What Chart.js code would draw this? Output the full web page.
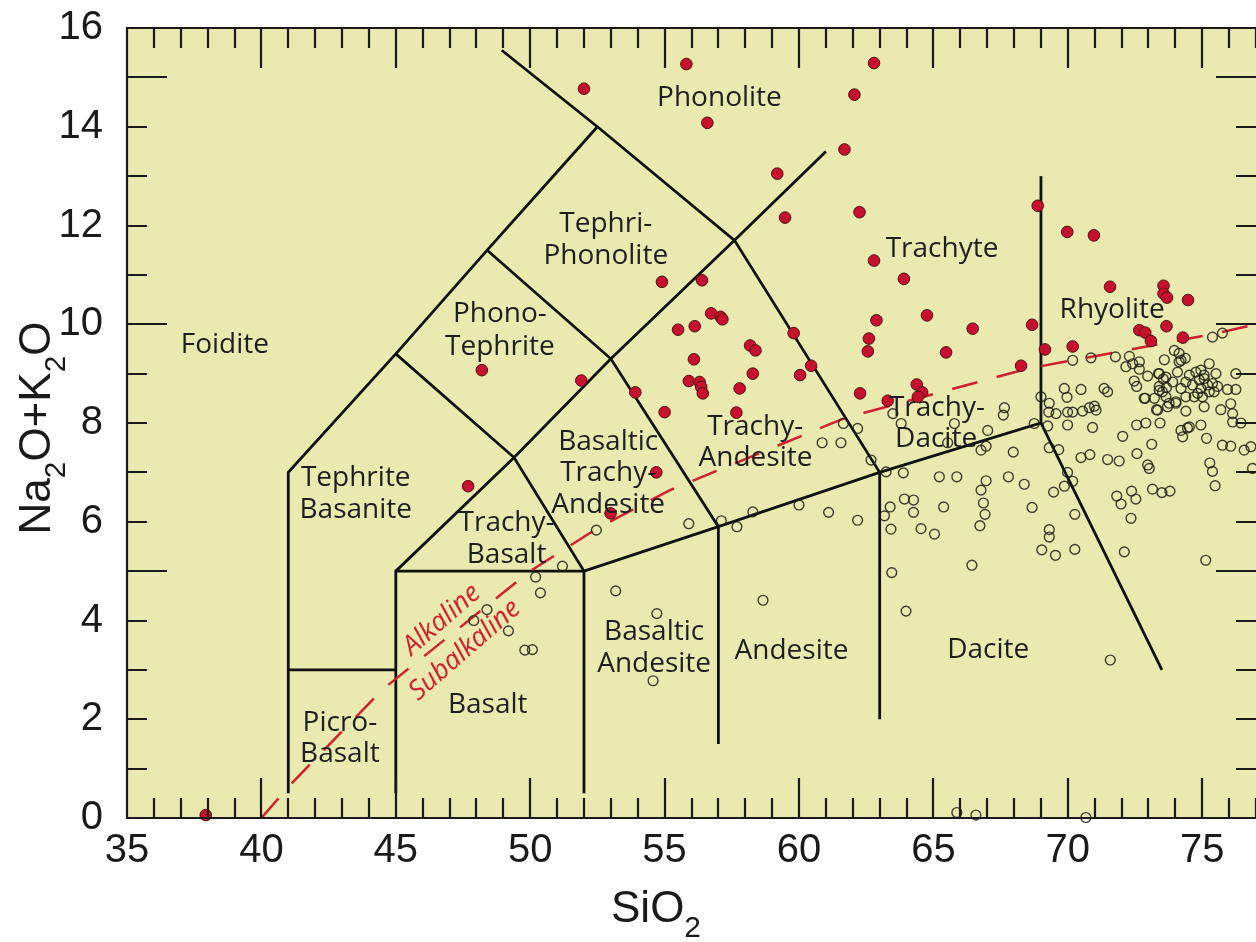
<!DOCTYPE html>
<html>
<head>
<meta charset="utf-8">
<title>TAS diagram</title>
<script src="https://cdn.jsdelivr.net/npm/chart.js@4.4.1/dist/chart.umd.min.js"></script>
<style>
  html, body { margin: 0; padding: 0; background: #fff; }
  canvas { display: block; }
</style>
</head>
<body>
<canvas id="tas" width="1256" height="942"></canvas>
<script>

// Axis ticks
const xTickValues = [35, 40, 45, 50, 55, 60, 65, 70, 75];
const yTickValues = [0, 2, 4, 6, 8, 10, 12, 14, 16];

// Samples (SiO2, Na2O+K2O)
const filledSamples = [
    [37.93, 0.06], [52.0, 14.77], [55.81, 15.27], [56.59, 14.08], [62.06, 14.65], [62.79, 15.29],
    [61.69, 13.54], [59.19, 13.05], [59.48, 12.16], [62.25, 12.27], [54.9, 10.86], [56.39, 10.89],
    [56.73, 10.22], [57.08, 10.15], [57.15, 10.1], [62.79, 11.29], [63.9, 10.92], [64.76, 10.18],
    [62.88, 10.08], [68.88, 12.4], [69.98, 11.87], [70.97, 11.8], [71.57, 10.76], [73.56, 10.78],
    [73.56, 10.62], [73.69, 10.54], [74.47, 10.49], [72.66, 9.88], [72.88, 9.83], [73.67, 9.96],
    [73.09, 9.66], [74.28, 9.73], [70.18, 9.55], [69.15, 9.49], [66.46, 9.91], [68.67, 9.99],
    [68.26, 9.16], [55.5, 9.89], [56.12, 9.96], [59.8, 9.82], [62.6, 9.71], [62.56, 9.45],
    [65.47, 9.43], [58.18, 9.57], [58.38, 9.47], [56.09, 9.29], [60.45, 9.16], [51.9, 8.86],
    [55.9, 8.85], [56.3, 8.83], [56.36, 8.73], [56.42, 8.6], [58.28, 9.0], [60.04, 8.97],
    [57.79, 8.7], [53.91, 8.62], [62.27, 8.6], [64.38, 8.78], [64.58, 8.62], [64.42, 8.53],
    [63.3, 8.45], [55.0, 8.22], [57.67, 8.21], [54.69, 7.0], [52.99, 6.17], [47.69, 6.72],
    [48.2, 9.07]
];

const openSamples = [
    [52.46, 5.83], [51.2, 5.1], [50.2, 4.88], [50.38, 4.56], [48.39, 4.22], [47.9, 4.0],
    [49.19, 3.79], [49.8, 3.4], [50.08, 3.41], [53.18, 4.6], [54.71, 4.14], [54.57, 2.78],
    [55.9, 5.96], [57.11, 6.02], [57.69, 5.9], [58.28, 6.2], [58.66, 4.41], [60.0, 6.34],
    [61.1, 6.19], [60.86, 7.6], [61.56, 7.6], [61.65, 7.99], [62.18, 7.89], [62.18, 6.03],
    [63.49, 8.19], [63.8, 7.99], [62.68, 7.25], [63.24, 7.01], [63.88, 6.99], [65.22, 6.91],
    [65.87, 6.91], [66.96, 6.83], [66.77, 6.64], [66.86, 6.38], [66.92, 6.15], [66.73, 5.92],
    [67.79, 6.91], [68.38, 6.76], [68.67, 6.29], [69.47, 6.6], [69.31, 5.84], [69.31, 5.69],
    [69.03, 5.43], [69.54, 5.32], [66.43, 5.12], [63.45, 4.97], [63.18, 6.12], [63.39, 6.3],
    [63.92, 6.46], [64.26, 6.44], [64.26, 6.19], [63.42, 5.85], [64.54, 5.86], [65.04, 5.75],
    [65.38, 6.3], [65.78, 7.99], [67.02, 7.85], [66.96, 7.53], [66.77, 7.45], [65.53, 7.6],
    [67.97, 7.41], [67.64, 8.31], [67.6, 8.16], [69.0, 8.53], [69.31, 8.4], [69.29, 8.22],
    [69.56, 8.19], [68.75, 7.99], [69.31, 7.5],
    [70.18, 9.27], [70.86, 9.32], [71.77, 9.34], [72.29, 9.35], [72.41, 9.2], [72.66, 9.24],
    [72.16, 9.14], [72.66, 9.09], [73.59, 9.28], [73.96, 9.47], [74.14, 9.41], [74.21, 9.27],
    [74.37, 9.31], [74.14, 9.24], [75.38, 9.74], [75.75, 9.82], [75.26, 9.2], [76.25, 9.0],
    [72.97, 8.95], [72.47, 8.85], [72.56, 8.74], [73.4, 9.0], [73.55, 8.89], [73.4, 8.74],
    [73.67, 8.72], [73.4, 8.66], [73.9, 8.83], [74.08, 9.03], [74.21, 8.7], [74.39, 8.83],
    [74.52, 8.97], [74.64, 8.77], [74.76, 9.03], [74.89, 8.87], [75.07, 8.97], [75.2, 8.77],
    [74.95, 8.7], [74.83, 8.6], [75.26, 8.63], [75.38, 8.8], [75.57, 8.74], [72.84, 8.5],
    [73.22, 8.5], [73.65, 8.53], [73.77, 8.4], [73.71, 8.33], [74.02, 8.43], [74.39, 8.53],
    [74.7, 8.53], [75.01, 8.53], [75.07, 8.33], [73.34, 8.26], [74.39, 8.24], [75.94, 8.68],
    [76.25, 8.68], [75.69, 8.27], [76.06, 8.39], [76.13, 8.19], [76.44, 8.0], [74.95, 7.96],
    [74.52, 7.92], [74.21, 7.85], [74.27, 7.72], [72.9, 8.0], [72.56, 7.96], [73.43, 8.0],
    [73.12, 7.57], [72.57, 7.38], [75.16, 7.69], [75.75, 7.55], [76.06, 7.53], [76.56, 7.45],
    [76.81, 7.52], [72.04, 7.73], [70.92, 7.91], [69.99, 7.96], [69.25, 7.94], [70.49, 7.3],
    [70.82, 7.36], [71.48, 7.26], [71.91, 7.23], [72.97, 7.15], [73.03, 7.08], [75.28, 7.19],
    [75.38, 7.02], [75.48, 6.73], [73.15, 6.66], [73.5, 6.59], [73.8, 6.62], [71.82, 6.52],
    [71.98, 6.36], [72.37, 6.62], [72.53, 6.46], [72.35, 6.07], [72.1, 5.39], [69.87, 8.7],
    [70.49, 8.68], [69.97, 8.52], [71.35, 8.7], [71.48, 8.63], [69.99, 8.22], [70.18, 8.22],
    [70.55, 8.24], [70.8, 8.31], [70.99, 8.34], [71.05, 8.26], [69.66, 7.46], [69.87, 6.72],
    [70.18, 6.82], [69.99, 7.0], [70.26, 6.15], [70.26, 5.44], [75.13, 5.22],
    [63.98, 4.19], [71.58, 3.2], [65.87, 0.11], [66.58, 0.06], [70.67, 0.01],
    [74.95, 9.07], [75.51, 9.0], [75.07, 8.9], [75.44, 8.63], [74.02, 8.4], [73.3, 8.27],
    [72.88, 8.5], [73.37, 9.0], [73.65, 8.93], [73.52, 8.63], [76.13, 8.02], [74.45, 7.9],
    [76.87, 7.08]
];

// Field boundaries (TAS, Le Bas et al.)
const foiditeEdge = [[41, 0.5], [41, 7], [45, 9.4], [48.4, 11.5], [52.5, 14]];
const phonoliteEdge = [[48.94, 15.55], [52.5, 14], [57.6, 11.7], [63, 7]];
const picroTop = [[41, 3], [45, 3]];
const basaltEdge = [[45, 0.5], [45, 5], [52, 5]];
const tephriEdge = [[45, 5], [49.4, 7.3], [53, 9.3], [57.6, 11.7], [61, 13.5]];
const trachyBasaltEdge = [[45, 9.4], [49.4, 7.3], [52, 5], [52, 0.5]];
const trachyAndesiteEdge = [[48.4, 11.5], [53, 9.3], [57, 5.9], [57, 1.5]];
const subalkalineTop = [[52, 5], [57, 5.9], [63, 7], [69, 8], [73.5, 3]];
const andesiteEdge = [[63, 7], [63, 2]];
const rhyoliteEdge = [[69, 8], [69, 13]];

// Alkaline / subalkaline divide
const alkalineDivide = [
    [40, 0], [41, 0.63], [44.5, 2.6], [50, 5.0], [52.5, 5.87], [55.2, 6.64],
    [61.7, 8.1], [65.5, 8.66], [68.5, 9.1], [75.4, 9.8], [77, 10]
];

const boundaries = [
    foiditeEdge, phonoliteEdge, picroTop, basaltEdge, tephriEdge,
    trachyBasaltEdge, trachyAndesiteEdge, subalkalineTop, andesiteEdge, rhyoliteEdge
];

// Field names (text, SiO2, Na2O+K2O)
const fieldLabels = [
    ["Foidite", 38.64, 9.57],
    ["Phonolite", 57.04, 14.59],
    ["Tephri-", 52.81, 12.02], ["Phonolite", 52.81, 11.38],
    ["Trachyte", 65.32, 11.52],
    ["Phono-", 48.87, 10.2], ["Tephrite", 48.87, 9.53],
    ["Rhyolite", 71.65, 10.28],
    ["Tephrite", 43.51, 6.88], ["Basanite", 43.51, 6.23],
    ["Basaltic", 52.9, 7.62], ["Trachy-", 52.9, 6.98], ["Andesite", 52.9, 6.33],
    ["Trachy-", 58.37, 7.92], ["Andesite", 58.38, 7.29],
    ["Trachy-", 65.13, 8.3], ["Dacite", 65.1, 7.67],
    ["Trachy-", 49.12, 5.97], ["Basalt", 49.12, 5.32],
    ["Basalt", 48.42, 2.29],
    ["Picro-", 42.92, 1.92], ["Basalt", 42.92, 1.3],
    ["Basaltic", 54.61, 3.77], ["Andesite", 54.61, 3.12],
    ["Andesite", 59.72, 3.38],
    ["Dacite", 67.04, 3.4]
];

const divideLabels = [
    ["Alkaline", 46.71, 4.01],
    ["Subalkaline", 47.57, 3.4]
];


const toPoints = (rows) => rows.map(([x, y]) => ({ x: x, y: y }));

// Subscript text helper, drawn centred on the origin
function drawSubText(ctx, parts, size) {
    let total = 0;
    parts.forEach(p => {
        ctx.font = (p[1] ? size * 0.68 : size) + "px 'Liberation Sans'";
        total += ctx.measureText(p[0]).width;
    });
    let cx = -total / 2;
    parts.forEach(p => {
        ctx.font = (p[1] ? size * 0.68 : size) + "px 'Liberation Sans'";
        ctx.fillText(p[0], cx, p[1] ? size * 0.34 : 0);
        cx += ctx.measureText(p[0]).width;
    });
}

const tasPlugin = {
    id: "tas",

    beforeDraw(chart) {
        const { ctx, chartArea: a } = chart;
        ctx.save();
        ctx.fillStyle = "#eae9b0";
        ctx.fillRect(a.left, a.top, a.right - a.left, a.bottom - a.top);
        ctx.restore();
    },

    afterDatasetsDraw(chart) {
        const { ctx } = chart;
        const xs = chart.scales.x, ys = chart.scales.y;
        ctx.save();
        ctx.fillStyle = "#1e1e1e";
        ctx.textAlign = "center";
        ctx.textBaseline = "middle";
        ctx.font = "28px 'Open Sans'";
        fieldLabels.forEach(([t, x, y]) => {
            ctx.fillText(t, xs.getPixelForValue(x), ys.getPixelForValue(y));
        });

        ctx.fillStyle = "#d0202e";
        ctx.font = "italic 27px 'Open Sans'";
        divideLabels.forEach(([t, x, y]) => {
            ctx.save();
            ctx.translate(xs.getPixelForValue(x), ys.getPixelForValue(y));
            ctx.rotate(-41 * Math.PI / 180);
            ctx.fillText(t, 0, 0);
            ctx.restore();
        });
        ctx.restore();
    },

    afterDraw(chart) {
        const { ctx, chartArea: a } = chart;
        const xs = chart.scales.x, ys = chart.scales.y;
        ctx.save();
        ctx.strokeStyle = "#1a1a1a";
        ctx.lineWidth = 2.2;

        // frame
        ctx.beginPath();
        ctx.moveTo(a.right, a.top);
        ctx.lineTo(a.left, a.top);
        ctx.lineTo(a.left, a.bottom);
        ctx.lineTo(a.right, a.bottom);
        ctx.stroke();

        // inside ticks
        ctx.beginPath();
        for (let v = 36; v <= 77; v++) {
            const px = Math.round(xs.getPixelForValue(v));
            const len = v % 5 === 0 ? 40 : 20;
            ctx.moveTo(px, a.bottom);
            ctx.lineTo(px, a.bottom - len);
            ctx.moveTo(px, a.top);
            ctx.lineTo(px, a.top + len);
        }
        for (let v = 1; v <= 15; v++) {
            const py = Math.round(ys.getPixelForValue(v));
            const len = v % 5 === 0 ? 40 : 20;
            ctx.moveTo(a.left, py);
            ctx.lineTo(a.left + len, py);
            ctx.moveTo(a.right, py);
            ctx.lineTo(a.right - len, py);
        }
        ctx.stroke();

        // axis titles
        ctx.fillStyle = "#1a1a1a";
        ctx.textAlign = "left";
        ctx.textBaseline = "alphabetic";
        ctx.save();
        ctx.translate(656, 922);
        drawSubText(ctx, [["SiO", false], ["2", true]], 44);
        ctx.restore();

        ctx.save();
        ctx.translate(50, 428);
        ctx.rotate(-Math.PI / 2);
        drawSubText(ctx, [["Na", false], ["2", true], ["O+K", false], ["2", true], ["O", false]], 44);
        ctx.restore();

        ctx.restore();
    }
};


const datasets = [
    {
        label: "Filled",
        data: toPoints(filledSamples),
        pointRadius: 5.8,
        pointBackgroundColor: "#c8102e",
        pointBorderColor: "#4a1212",
        pointBorderWidth: 1,
        showLine: false,
        clip: false,
        order: 0
    },
    {
        label: "Open",
        data: toPoints(openSamples),
        pointRadius: 4.9,
        pointBackgroundColor: "rgba(0,0,0,0)",
        pointBorderColor: "rgba(30,30,20,0.85)",
        pointBorderWidth: 1.4,
        showLine: false,
        clip: false,
        order: 1
    },
    {
        label: "Divide",
        data: toPoints(alkalineDivide),
        showLine: true,
        pointRadius: 0,
        borderColor: "#d0202e",
        borderWidth: 2.5,
        borderDash: [26, 20],
        order: 2
    }
];

boundaries.forEach((line, i) => {
    datasets.push({
        label: "Boundary " + i,
        data: toPoints(line),
        showLine: true,
        pointRadius: 0,
        borderColor: "#111",
        borderWidth: 2.8,
        order: 3
    });
});


new Chart(document.getElementById("tas"), {
    type: "scatter",
    data: { datasets: datasets },
    plugins: [tasPlugin],
    options: {
        responsive: false,
        animation: false,
        layout: {
            autoPadding: false,
            padding: { top: 28, right: 0, left: 0, bottom: 0 }
        },
        plugins: {
            legend: { display: false },
            tooltip: { enabled: false }
        },
        scales: {
            x: {
                type: "linear",
                min: 35,
                max: 77,
                grid: { display: false, drawTicks: false },
                border: { display: false },
                afterBuildTicks: (scale) => { scale.ticks = xTickValues.map(v => ({ value: v })); },
                afterFit: (scale) => {
                    scale.height = 124;
                    // plot runs right to the canvas edge
                    scale.paddingLeft = 0;
                    scale.paddingRight = 0;
                },
                ticks: {
                    autoSkip: false,
                    maxRotation: 0,
                    padding: 9,
                    color: "#1a1a1a",
                    font: { family: "'Liberation Sans'", size: 40 }
                }
            },
            y: {
                type: "linear",
                min: 0,
                max: 16,
                grid: { display: false, drawTicks: false },
                border: { display: false },
                afterBuildTicks: (scale) => { scale.ticks = yTickValues.map(v => ({ value: v })); },
                afterFit: (scale) => {
                    scale.width = 127;
                    scale.paddingTop = 0;
                    scale.paddingBottom = 0;
                },
                ticks: {
                    autoSkip: false,
                    padding: 24,
                    color: "#1a1a1a",
                    font: { family: "'Liberation Sans'", size: 40, lineHeight: 0.1 }
                }
            }
        }
    }
});
</script>
</body>
</html>
